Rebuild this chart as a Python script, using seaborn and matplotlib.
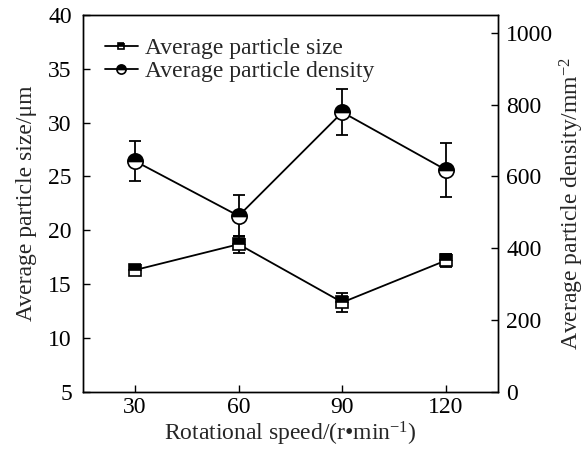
import matplotlib
matplotlib.use("Agg")
import matplotlib.pyplot as plt
import seaborn as sns
import pandas as pd

# Measured data
speed = [30, 60, 90, 120]
size_mean = [16.3, 18.7, 13.3, 17.2]
size_err = [0.5, 0.8, 0.9, 0.6]
density_mean = [643, 490, 779, 618]
density_err = [56, 57, 64, 74]

sns.set_style("ticks")
plt.rcParams["font.family"] = ["Liberation Serif", "DejaVu Serif"]
plt.rcParams["mathtext.fontset"] = "custom"
plt.rcParams["mathtext.rm"] = "Liberation Serif"
plt.rcParams["mathtext.it"] = "Liberation Serif:italic"
plt.rcParams["axes.linewidth"] = 1.0

df = pd.DataFrame({"speed": speed, "size": size_mean, "density": density_mean})

fig = plt.figure(figsize=(5.86, 4.54), dpi=100)
ax = fig.add_axes([0.1416, 0.1372, 0.7082, 0.8298])
ax2 = ax.twinx()

FS = 17

# Particle size (left axis)
ax.errorbar(speed, size_mean, yerr=size_err, fmt="none", ecolor="black",
            elinewidth=1.3, capsize=4, capthick=1.3, zorder=2)
sns.lineplot(data=df, x="speed", y="size", ax=ax, color="black", lw=1.3,
             marker="s", markersize=8, fillstyle="top",
             markerfacecolor="black", markerfacecoloralt="white",
             markeredgecolor="black", markeredgewidth=1.2, zorder=3,
             label="Average particle size", legend=False)

# Particle density (right axis)
ax2.errorbar(speed, density_mean, yerr=density_err, fmt="none", ecolor="black",
             elinewidth=1.3, capsize=4, capthick=1.3, zorder=2)
sns.lineplot(data=df, x="speed", y="density", ax=ax2, color="black", lw=1.3,
             marker="o", markersize=11, fillstyle="top",
             markerfacecolor="black", markerfacecoloralt="white",
             markeredgecolor="black", markeredgewidth=1.2, zorder=3,
             label="Average particle density", legend=False)

ax.set_xlim(15, 135)
ax.set_ylim(5, 40)
ax2.set_ylim(0, 1050)
ax.set_xticks(speed)
ax.set_yticks([5, 10, 15, 20, 25, 30, 35, 40])
ax2.set_yticks([0, 200, 400, 600, 800, 1000])

ax.set_xlabel("Rotational speed/(r\u2022min$^{-1}$)", fontsize=FS, labelpad=1)
ax.set_ylabel("Average particle size/\u03bcm", fontsize=FS, labelpad=8)
ax2.set_ylabel("Average particle density/mm$^{-2}$", fontsize=FS, labelpad=3)

ax.tick_params(axis="x", direction="in", length=5, width=1, labelsize=FS,
               colors="black", top=False, pad=4)
ax.tick_params(axis="y", direction="in", length=5, width=1, labelsize=FS,
               colors="black", right=False, pad=8)
ax2.tick_params(axis="y", direction="in", length=5, width=1, labelsize=FS,
                colors="black", pad=6)
for a in (ax, ax2):
    for s in a.spines.values():
        s.set_visible(True)
        s.set_color("black")

h1, l1 = ax.get_legend_handles_labels()
h2, l2 = ax2.get_legend_handles_labels()
ax.legend(h1 + h2, l1 + l2, loc="upper left", bbox_to_anchor=(0.03, 0.965),
          frameon=False, fontsize=FS, handlelength=1.4, handletextpad=0.3,
          labelspacing=0.05, borderaxespad=0.0, markerscale=0.6)

fig.savefig("out.png", dpi=100)
